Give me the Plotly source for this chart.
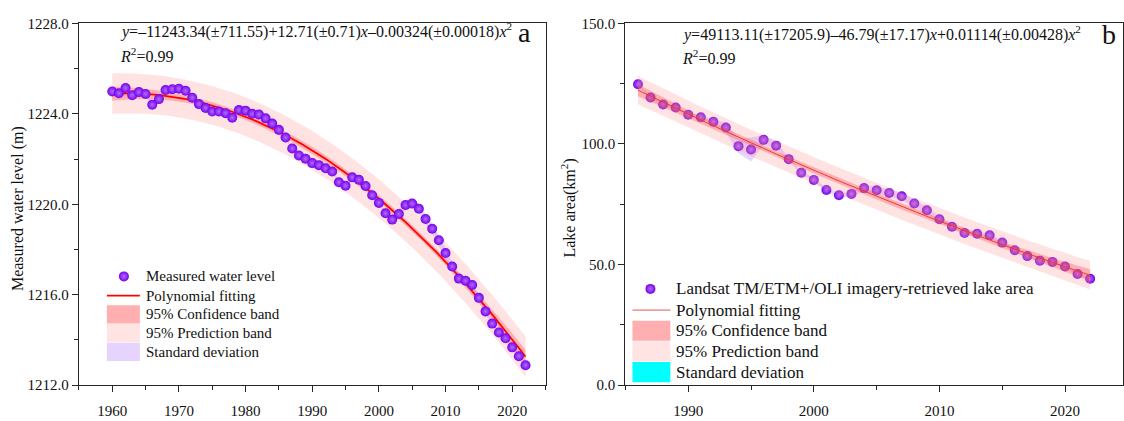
import numpy as np
import plotly.graph_objects as go

W, H = 1124, 421
FONT = "Liberation Serif"

# ---------------- data ----------------
years_a = list(range(1960, 2023))
level_a = [1224.99, 1224.91, 1225.14, 1224.82, 1224.96, 1224.88, 1224.40, 1224.65, 1225.05, 1225.09,
           1225.11, 1225.02, 1224.71, 1224.43, 1224.26, 1224.10, 1224.10, 1224.03, 1223.83, 1224.17,
           1224.14, 1224.00, 1223.97, 1223.80, 1223.57, 1223.29, 1222.95, 1222.47, 1222.16, 1222.01,
           1221.82, 1221.73, 1221.59, 1221.45, 1220.97, 1220.82, 1221.19, 1221.08, 1220.81, 1220.40,
           1220.06, 1219.60, 1219.32, 1219.57, 1219.97, 1220.03, 1219.80, 1219.35, 1218.92, 1218.41,
           1217.84, 1217.25, 1216.71, 1216.62, 1216.43, 1215.86, 1215.26, 1214.72, 1214.33, 1214.07,
           1213.67, 1213.28, 1212.88]
sd_a = [0.08, 0.08, 0.08, 0.08, 0.08, 0.08, 0.18, 0.14, 0.08, 0.08,
        0.08, 0.08, 0.08, 0.08, 0.08, 0.08, 0.08, 0.08, 0.08, 0.08,
        0.08, 0.08, 0.08, 0.08, 0.08, 0.08, 0.08, 0.08, 0.08, 0.08,
        0.08, 0.08, 0.08, 0.08, 0.10, 0.10, 0.10, 0.08, 0.08, 0.08,
        0.10, 0.10, 0.12, 0.22, 0.22, 0.22, 0.22, 0.22, 0.22, 0.22,
        0.22, 0.20, 0.18, 0.15, 0.15, 0.15, 0.12, 0.10, 0.10, 0.10,
        0.10, 0.10, 0.10]

years_b = list(range(1986, 2023))
area_b = [124.8, 119.3, 116.4, 115.1, 112.1, 111.1, 109.2, 106.8, 99.1, 97.7,
          101.7, 99.3, 93.7, 88.1, 85.1, 80.9, 78.7, 79.3, 81.7, 80.8,
          79.7, 78.3, 75.3, 72.5, 68.8, 65.7, 63.1, 62.8, 62.1, 59.1,
          55.9, 53.5, 51.6, 51.1, 49.2, 46.1, 44.1]
sd_b = [0.6, 0.6, 0.6, 0.6, 0.6, 0.6, 1.0, 2.0, 3.0, 5.0,
        2.0, 1.5, 0.8, 0.8, 0.8, 0.8, 0.8, 1.0, 1.5, 1.5,
        1.5, 1.5, 1.5, 1.5, 1.2, 1.0, 0.8, 0.8, 0.8, 0.8,
        0.8, 0.8, 0.6, 0.6, 0.6, 0.6, 0.6]

eq_a = "<i>y</i>=–11243.34(±711.55)+12.71(±0.71)<i>x</i>–0.00324(±0.00018)<i>x</i><sup>2</sup>"
eq_b = "<i>y</i>=49113.11(±17205.9)–46.79(±17.17)<i>x</i>+0.01114(±0.00428)<i>x</i><sup>2</sup>"
r2_text = "<i>R</i><sup>2</sup>=0.99"

legend_a = ["Measured water level", "Polynomial fitting", "95% Confidence band",
            "95% Prediction band", "Standard deviation"]
legend_b = ["Landsat TM/ETM+/OLI imagery-retrieved lake area", "Polynomial fitting",
            "95% Confidence band", "95% Prediction band", "Standard deviation"]

# ---------------- styles ----------------
PURPLE = "rgb(120,0,235)"
PURPLE_HI = "rgb(175,110,255)"
PRED_FILL = "rgba(255,150,150,0.27)"
CONF_FILL = "rgba(255,70,70,0.33)"
SD_FILL = "rgba(190,150,255,0.40)"
AXC = "#262626"


def fit_bands(x, y, t):
    x = np.asarray(x, float)
    y = np.asarray(y, float)
    m = x.mean()
    X = np.vstack([np.ones_like(x), x - m, (x - m) ** 2]).T
    beta, *_ = np.linalg.lstsq(X, y, rcond=None)
    res = y - X @ beta
    n, p = X.shape
    s2 = res @ res / (n - p)
    XtXi = np.linalg.inv(X.T @ X)
    xg = np.linspace(x.min(), x.max(), 200)
    G = np.vstack([np.ones_like(xg), xg - m, (xg - m) ** 2]).T
    yg = G @ beta
    h = np.einsum("ij,jk,ik->i", G, XtXi, G)
    conf = t * np.sqrt(s2 * h)
    pred = t * np.sqrt(s2 * (1 + h))
    return xg, yg, conf, pred


def poly(x, lo, hi):
    x = np.asarray(x)
    return np.concatenate([x, x[::-1]]), np.concatenate([np.asarray(hi), np.asarray(lo)[::-1]])


fig = go.Figure()
MK = dict(size=10, color=PURPLE, gradient=dict(type="radial", color=PURPLE_HI))

# ---------- panel a ----------
xg, yg, cf, pr = fit_bands(years_a, level_a, 2.000)
px_, py_ = poly(xg, yg - pr, yg + pr)
fig.add_trace(go.Scatter(x=px_, y=py_, fill="toself", fillcolor=PRED_FILL, line=dict(width=0),
                         mode="lines", hoverinfo="skip", xaxis="x", yaxis="y"))
px_, py_ = poly(xg, yg - cf, yg + cf)
fig.add_trace(go.Scatter(x=px_, y=py_, fill="toself", fillcolor=CONF_FILL, line=dict(width=0),
                         mode="lines", hoverinfo="skip", xaxis="x", yaxis="y"))
la = np.array(level_a); sa = np.array(sd_a)
px_, py_ = poly(years_a, la - sa, la + sa)
fig.add_trace(go.Scatter(x=px_, y=py_, fill="toself", fillcolor=SD_FILL, line=dict(width=0),
                         mode="lines", hoverinfo="skip", xaxis="x", yaxis="y"))
fig.add_trace(go.Scatter(x=xg, y=yg, mode="lines", line=dict(color="rgb(255,0,0)", width=1.8),
                         xaxis="x", yaxis="y"))
fig.add_trace(go.Scatter(x=years_a, y=level_a, mode="markers", marker=MK, xaxis="x", yaxis="y"))

# ---------- panel b ----------
xg, yg, cf, pr = fit_bands(years_b, area_b, 2.032)
lb = np.array(area_b); sb = np.array(sd_b)
px_, py_ = poly(years_b, lb - sb, lb + sb)
fig.add_trace(go.Scatter(x=px_, y=py_, fill="toself", fillcolor=SD_FILL, line=dict(width=0),
                         mode="lines", hoverinfo="skip", xaxis="x2", yaxis="y2"))
fig.add_trace(go.Scatter(x=years_b, y=area_b, mode="markers", marker=MK, xaxis="x2", yaxis="y2"))
px_, py_ = poly(xg, yg - pr, yg + pr)
fig.add_trace(go.Scatter(x=px_, y=py_, fill="toself", fillcolor=PRED_FILL, line=dict(width=0),
                         mode="lines", hoverinfo="skip", xaxis="x2", yaxis="y2"))
px_, py_ = poly(xg, yg - cf, yg + cf)
fig.add_trace(go.Scatter(x=px_, y=py_, fill="toself", fillcolor=CONF_FILL, line=dict(width=0),
                         mode="lines", hoverinfo="skip", xaxis="x2", yaxis="y2"))
fig.add_trace(go.Scatter(x=xg, y=yg, mode="lines", line=dict(color="rgb(225,60,60)", width=1),
                         xaxis="x2", yaxis="y2"))

# ---------- legend marker samples (pixel overlay) ----------
fig.add_trace(go.Scatter(x=[124, 651], y=[279, 292], mode="markers", marker=MK,
                         xaxis="x3", yaxis="y3", hoverinfo="skip"))

shapes = []
annotations = []


def legend_block(x0, x1, rows, labels, fs, sd_color, line_color, line_w):
    shapes.append(dict(type="line", xref="x3", yref="y3", x0=x0, x1=x1, y0=rows[1], y1=rows[1],
                       line=dict(color=line_color, width=line_w)))
    gap = (rows[1] - rows[0]) / 2
    for i, col in zip([2, 3, 4], ["rgb(255,175,175)", "rgb(255,228,228)", sd_color]):
        shapes.append(dict(type="rect", xref="x3", yref="y3", x0=x0, x1=x1,
                           y0=rows[i] - gap + 0.5, y1=rows[i] + gap - 0.5,
                           fillcolor=col, line=dict(width=0)))
    for r, lab in zip(rows, labels):
        annotations.append(dict(x=x1 + 4, y=r, xref="x3", yref="y3", text=lab, showarrow=False,
                                xanchor="left", yanchor="middle",
                                font=dict(family=FONT, size=fs, color="#111")))


legend_block(107, 140, [279, 299, 318.5, 338, 357.5], legend_a, 15,
             "rgb(230,212,255)", "rgb(255,0,0)", 1.8)
legend_block(633, 671, [292, 314, 335.5, 357, 378.5], legend_b, 17,
             "rgb(0,255,255)", "rgb(225,90,90)", 1)

# equations, panel letters, axis titles
for x, y, t in [(118, 23, eq_a), (118, 49, r2_text), (681, 26, eq_b), (681, 51, r2_text)]:
    annotations.append(dict(x=x, y=y, xref="x3", yref="y3", text=t, showarrow=False,
                            xanchor="left", yanchor="middle",
                            font=dict(family=FONT, size=16, color="#111")))
for x, y, t in [(525, 25, "a"), (1110, 28, "b")]:
    annotations.append(dict(x=x, y=y, xref="x3", yref="y3", text=t, showarrow=False,
                            xanchor="center", yanchor="middle",
                            font=dict(family=FONT, size=28, color="#111")))
annotations.append(dict(x=18, y=208, xref="x3", yref="y3", text="Measured water level (m)",
                        showarrow=False, textangle=-90, xanchor="center", yanchor="middle",
                        font=dict(family=FONT, size=16, color="#111")))
annotations.append(dict(x=569, y=208, xref="x3", yref="y3", text="Lake area(km<sup>2</sup>)",
                        showarrow=False, textangle=-90, xanchor="center", yanchor="middle",
                        font=dict(family=FONT, size=16, color="#111")))

ydom = [(H - 392) / H, (H - 16) / H]
axis_common = dict(showline=True, linecolor=AXC, linewidth=1.3, mirror=True, ticks="outside",
                   ticklen=6, tickwidth=1.2, tickcolor=AXC, showgrid=False, zeroline=False,
                   tickfont=dict(family=FONT, size=15, color="#111"))

fig.update_layout(
    width=W, height=H, margin=dict(l=0, r=0, t=0, b=0),
    paper_bgcolor="white", plot_bgcolor="rgba(0,0,0,0)", showlegend=False,
    xaxis=dict(domain=[79 / W, 546 / W], range=[1955, 2025], tick0=1960, dtick=10,
               minor=dict(dtick=5, tick0=1955, ticks="outside", ticklen=4, tickcolor=AXC),
               ticklabelstandoff=6, anchor="y", **axis_common),
    yaxis=dict(domain=ydom, range=[1212, 1228], tick0=1212, dtick=4, tickformat=".1f",
               minor=dict(dtick=2, tick0=1212, ticks="outside", ticklen=4, tickcolor=AXC),
               anchor="x", **axis_common),
    xaxis2=dict(domain=[626 / W, 1.0], range=[1985, 1985 + (W - 626) / 12.57], tick0=1990, dtick=10,
                minor=dict(dtick=5, tick0=1985, ticks="outside", ticklen=4, tickcolor=AXC),
                ticklabelstandoff=6, anchor="y2", **axis_common),
    yaxis2=dict(domain=ydom, range=[0, 150], tick0=0, dtick=50, tickformat=".1f",
                minor=dict(dtick=25, tick0=0, ticks="outside", ticklen=4, tickcolor=AXC),
                anchor="x2", **axis_common),
    xaxis3=dict(domain=[0, 1], range=[0, W], visible=False, fixedrange=True, anchor="y3"),
    yaxis3=dict(domain=[0, 1], range=[H, 0], visible=False, fixedrange=True, anchor="x3"),
    shapes=shapes, annotations=annotations,
)

fig.write_html("out.html")
